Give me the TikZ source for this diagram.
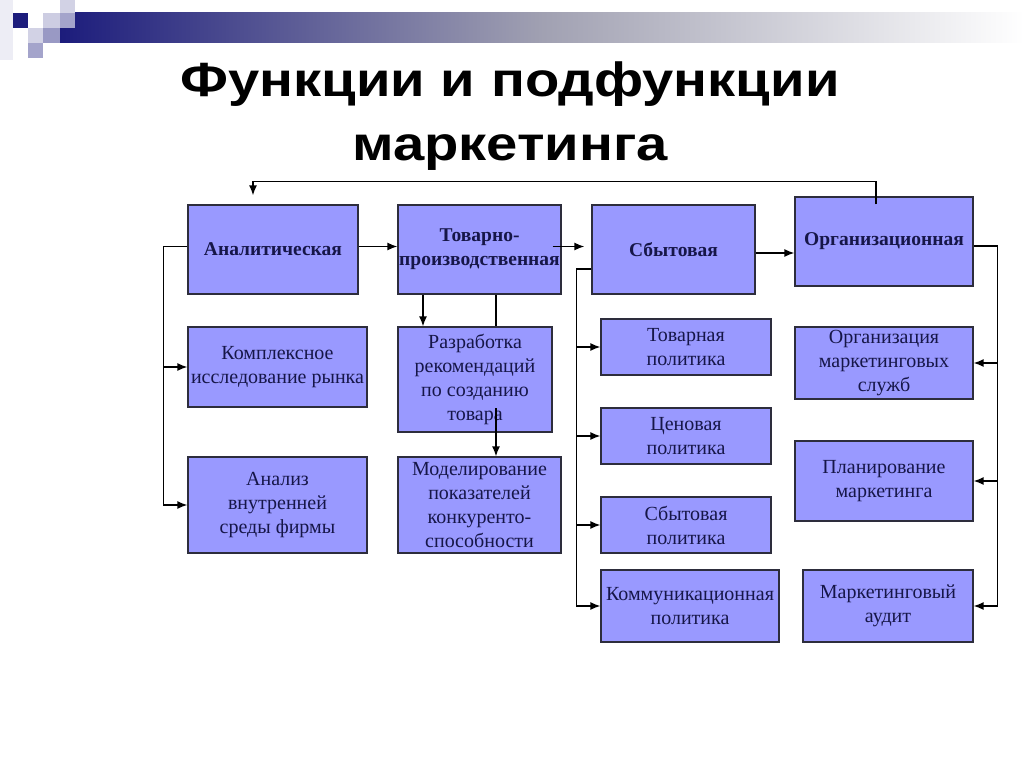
\documentclass[tikz,border=0pt]{standalone}
\usepackage{fontspec}
\setmainfont{Liberation Serif}
\newfontfamily\titlefont[FakeStretch=1.17]{Liberation Sans}
\usetikzlibrary{arrows.meta}
\usetikzlibrary{positioning}
\definecolor{boxfill}{RGB}{153,153,255}
\definecolor{boxline}{RGB}{45,45,60}
\definecolor{boxtext}{RGB}{22,22,72}
\definecolor{barnavy}{RGB}{28,28,124}
\tikzset{x=1pt,y=-1pt,
    mainbox/.style={
        draw=boxline,
        line width=1.3pt,
        fill=boxfill,
        text=boxtext,
        align=center,
        inner sep=0pt,
        font=\bfseries\fontsize{19.5}{24}\selectfont},
    subbox/.style={
        mainbox,
        font=\fontsize{20}{24}\selectfont},
    link/.style={
        draw,
        line width=1.4pt},
    arr/.style={
        link,
        ->,>={Latex[length=10pt,width=8pt]}}}

\begin{document}
\begin{tikzpicture}
    \useasboundingbox[fill=white] (0,0) rectangle (1024,767);
    % top bar
    \fill[barnavy!8] (0,0) rectangle (13,60);
    \shade[left color=barnavy, right color=white, middle color=barnavy!30!gray!60] (60,13) rectangle (1024,43);
    \fill[barnavy] (13,13) rectangle (28,28);
    \fill[barnavy!20] (28,28) rectangle (43,43);
    \fill[barnavy!40] (28,43) rectangle (43,58);
    \fill[barnavy!22] (43,13) rectangle (60,28);
    \fill[barnavy!45] (43,28) rectangle (60,43);
    \fill[barnavy!20] (60,0) rectangle (75,13);
    \fill[barnavy!40] (60,13) rectangle (75,28);

    \node[font=\titlefont\bfseries\fontsize{48}{64}\selectfont, align=center, anchor=base] (title)
        at (510,161) {Функции и подфункции\\маркетинга};

    % main functions
    \node[mainbox, minimum width=170pt, minimum height=89pt] (ana) at (273,249.5) {Аналитическая};
    \node[mainbox, minimum width=163pt, minimum height=89pt] (tov) at (479.5,249.5) {Товарно-\\производственная};
    \node[mainbox, minimum width=163pt, minimum height=89pt] (sbyt) at (673.5,249.5) {Сбытовая};
    \node[mainbox, minimum width=178pt, minimum height=89pt] (org) at (884,241.5) {Организационная};

    % subfunctions
    \node[subbox, minimum width=179pt, minimum height=80pt] (kompl) at (277.5,367) {Комплексное\\исследование рынка};
    \node[subbox, minimum width=179pt, minimum height=96pt] (analiz) at (277.5,505) {Анализ\\внутренней\\среды фирмы};
    \node[subbox, minimum width=154pt, minimum height=105pt] (razr) at (475,379.5) {Разработка\\рекомендаций\\по созданию\\товара};
    \node[subbox, minimum width=163pt, minimum height=96pt] (model) at (479.5,505) {Моделирование\\показателей\\конкуренто-\\способности};
    \node[subbox, minimum width=170pt, minimum height=56pt] (tovpol) at (686,347) {Товарная\\политика};
    \node[subbox, minimum width=170pt, minimum height=56pt] (cenpol) at (686,436) {Ценовая\\политика};
    \node[subbox, minimum width=170pt, minimum height=56pt] (sbytpol) at (686,525) {Сбытовая\\политика};
    \node[subbox, minimum width=178pt, minimum height=72pt] (kommpol) at (690,606) {Коммуникационная\\политика};
    \node[subbox, minimum width=178pt, minimum height=72pt] (orgsl) at (884,363) {Организация\\маркетинговых\\служб};
    \node[subbox, minimum width=178pt, minimum height=80pt] (plan) at (884,481) {Планирование\\маркетинга};
    \node[subbox, minimum width=170pt, minimum height=72pt] (audit) at (888,606) {Маркетинговый\\аудит};

    % chain of main functions
    \draw[arr] ([yshift=3pt]ana.east) -- ([yshift=3pt]tov.west);
    \draw[arr] ([xshift=-9pt,yshift=3pt]tov.east) -- ([xshift=-7pt,yshift=3pt]sbyt.west);
    \draw[arr] ([yshift=-3.5pt]sbyt.east) -- ([yshift=-3.5pt]sbyt.east -| org.west);
    \draw[arr] ([xshift=-8pt,yshift=-8pt]org.north) -- ++(0,-23) -| ([xshift=-20pt,yshift=9pt]ana.north);

    % analytic
    \coordinate (anabus) at ([xshift=-24pt,yshift=3pt]ana.west);
    \draw[link] ([yshift=3pt]ana.west) -- (anabus);
    \draw[arr] (anabus) |- (analiz.west);
    \draw[arr] (anabus |- kompl.west) -- (kompl.west);

    % production
    \draw[arr] ([xshift=-56.5pt]tov.south) -- ([xshift=-56.5pt]tov.south |- razr.north);
    \draw[link] ([xshift=16.5pt]tov.south) -- ([xshift=16.5pt]tov.south |- razr.north);
    \draw[arr] ([xshift=16.5pt]tov.south |- 0,408) -- ([xshift=16.5pt]tov.south |- model.north);

    % sales
    \coordinate (sbytbus) at ([xshift=-15pt,yshift=-19.5pt]sbyt.west);
    \draw[link] ([yshift=-19.5pt]sbyt.west) -- (sbytbus);
    \draw[arr] (sbytbus) |- (kommpol.west);
    \foreach \n in {tovpol,cenpol,sbytpol}
        \draw[arr] (sbytbus |- \n.west) -- (\n.west);

    % organisation
    \coordinate (orgbus) at ([xshift=24pt,yshift=-4.5pt]org.east);
    \draw[link] ([yshift=-4.5pt]org.east) -- (orgbus);
    \draw[arr] (orgbus) |- (audit.east);
    \foreach \n in {orgsl,plan}
        \draw[arr] (orgbus |- \n.east) -- (\n.east);
\end{tikzpicture}
\end{document}
